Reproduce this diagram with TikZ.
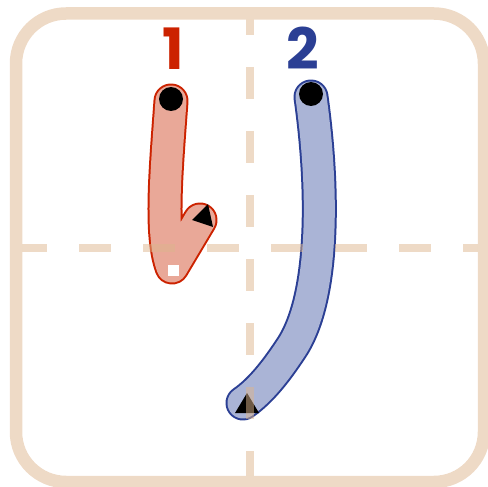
\documentclass[tikz,border=0pt]{standalone}
\usepackage{fontspec}
\setmainfont{Poppins}
\usepackage{tikz}
\definecolor{guide}{HTML}{DDB58D}
\definecolor{frame}{HTML}{EEDAC6}
\definecolor{redline}{HTML}{CC2200}
\definecolor{redfill}{HTML}{E9A898}
\definecolor{blueline}{HTML}{2B3F94}
\definecolor{bluefill}{HTML}{AAB4D6}

\begin{document}
\begin{tikzpicture}[x=1pt,y=-1pt,line cap=round,line join=round,
    every node/.style={font=\fontsize{57}{57}\selectfont\bfseries}]
    \useasboundingbox (0,0) rectangle (488,487);
    % stroke 1
    \draw[redline,line width=2pt,double=redfill,double distance=31pt]
        (171,101) .. controls (166,170) and (160,235) .. (172,267) -- (200,220);
    \fill (171,99) circle[radius=12pt];
    \fill[white] (168,265) rectangle (179,276);
    \fill (192,220) -- (208,204) -- (213,227) -- cycle;
    \node[redline,anchor=base] (num1) at (173,70) {1};
    % stroke 2
    \draw[blueline,line width=2pt,double=bluefill,double distance=31pt]
        (311,97) .. controls (324,190) and (325,300) .. (290,350)
        .. controls (278,368) and (262,390) .. (243,403);
    \fill (311,94) circle[radius=12pt];
    \fill (247,393) -- (259,413) -- (235,413) -- cycle;
    \node[blueline,anchor=base] (num2) at (303,70) {2};
    % guides
    \draw[guide,opacity=0.5,line width=8pt,line cap=butt,
          dash pattern=on 32pt off 32pt,dash phase=10.5pt] (250,13.5) -- (250,482);
    \draw[guide,opacity=0.5,line width=8pt,line cap=butt,
          dash pattern=on 32pt off 32pt,dash phase=1pt] (16,248) -- (484,248);
    % frame
    \draw[frame,line width=12.5pt,rounded corners=50pt] (16,13.5) rectangle (484,482);
\end{tikzpicture}
\end{document}
